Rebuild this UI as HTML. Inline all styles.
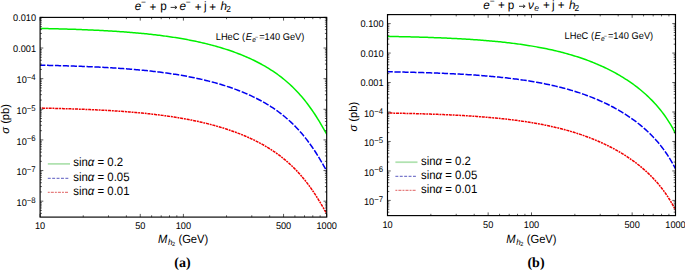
<!DOCTYPE html>
<html><head><meta charset="utf-8"><style>
html,body{margin:0;padding:0;background:#fff;width:685px;height:270px;overflow:hidden}
</style></head><body>
<svg width="685" height="270" viewBox="0 0 685 270" style="display:block;font-family:'Liberation Sans', sans-serif" fill="#000" text-rendering="geometricPrecision">
<rect width="685" height="270" fill="#fff"/>
<clipPath id="clipa"><rect x="40.1" y="17.4" width="286.6" height="199.7"/></clipPath>
<g clip-path="url(#clipa)" fill="none" stroke-width="1.5">
<path d="M39.1 28.41 L40.55 28.44 L42 28.47 L43.45 28.5 L44.9 28.53 L46.35 28.56 L47.8 28.59 L49.25 28.63 L50.7 28.66 L52.15 28.69 L53.6 28.73 L55.05 28.77 L56.5 28.8 L57.95 28.84 L59.4 28.88 L60.85 28.92 L62.3 28.96 L63.75 29 L65.2 29.05 L66.65 29.09 L68.11 29.13 L69.56 29.18 L71.01 29.23 L72.46 29.27 L73.91 29.32 L75.36 29.37 L76.81 29.42 L78.26 29.47 L79.71 29.53 L81.16 29.58 L82.61 29.64 L84.06 29.7 L85.51 29.75 L86.96 29.81 L88.41 29.88 L89.86 29.94 L91.31 30 L92.76 30.07 L94.21 30.13 L95.66 30.2 L97.11 30.27 L98.56 30.34 L100.01 30.42 L101.46 30.49 L102.91 30.57 L104.36 30.65 L105.81 30.73 L107.26 30.81 L108.71 30.89 L110.16 30.98 L111.61 31.07 L113.06 31.16 L114.51 31.25 L115.96 31.34 L117.41 31.44 L118.86 31.53 L120.31 31.63 L121.76 31.74 L123.21 31.84 L124.66 31.95 L126.12 32.06 L127.57 32.17 L129.02 32.28 L130.47 32.4 L131.92 32.52 L133.37 32.64 L134.82 32.77 L136.27 32.89 L137.72 33.02 L139.17 33.16 L140.62 33.29 L142.07 33.43 L143.52 33.57 L144.97 33.72 L146.42 33.87 L147.87 34.02 L149.32 34.17 L150.77 34.33 L152.22 34.49 L153.67 34.66 L155.12 34.83 L156.57 35 L158.02 35.18 L159.47 35.36 L160.92 35.54 L162.37 35.73 L163.82 35.92 L165.27 36.12 L166.72 36.32 L168.17 36.52 L169.62 36.73 L171.07 36.94 L172.52 37.16 L173.97 37.38 L175.42 37.61 L176.87 37.84 L178.32 38.08 L179.77 38.32 L181.22 38.57 L182.67 38.82 L184.13 39.08 L185.58 39.34 L187.03 39.61 L188.48 39.88 L189.93 40.16 L191.38 40.44 L192.83 40.74 L194.28 41.03 L195.73 41.34 L197.18 41.64 L198.63 41.96 L200.08 42.28 L201.53 42.61 L202.98 42.95 L204.43 43.29 L205.88 43.64 L207.33 44 L208.78 44.36 L210.23 44.73 L211.68 45.11 L213.13 45.5 L214.58 45.89 L216.03 46.3 L217.48 46.71 L218.93 47.13 L220.38 47.56 L221.83 47.99 L223.28 48.44 L224.73 48.9 L226.18 49.36 L227.63 49.83 L229.08 50.32 L230.53 50.81 L231.98 51.32 L233.43 51.83 L234.88 52.36 L236.33 52.89 L237.78 53.44 L239.23 54 L240.68 54.57 L242.14 55.15 L243.59 55.75 L245.04 56.36 L246.49 56.98 L247.94 57.62 L249.39 58.27 L250.84 58.93 L252.29 59.61 L253.74 60.3 L255.19 61.01 L256.64 61.74 L258.09 62.48 L259.54 63.24 L260.99 64.02 L262.44 64.82 L263.89 65.63 L265.34 66.47 L266.79 67.32 L268.24 68.2 L269.69 69.1 L271.14 70.02 L272.59 70.97 L274.04 71.94 L275.49 72.93 L276.94 73.96 L278.39 75.01 L279.84 76.08 L281.29 77.19 L282.74 78.33 L284.19 79.5 L285.64 80.71 L287.09 81.95 L288.54 83.23 L289.99 84.54 L291.44 85.89 L292.89 87.28 L294.34 88.72 L295.79 90.2 L297.24 91.72 L298.69 93.29 L300.15 94.91 L301.6 96.57 L303.05 98.29 L304.5 100.06 L305.95 101.89 L307.4 103.77 L308.85 105.7 L310.3 107.7 L311.75 109.75 L313.2 111.86 L314.65 114.04 L316.1 116.27 L317.55 118.56 L319 120.91 L320.45 123.32 L321.9 125.78 L323.35 128.29 L324.8 130.86 L326.25 133.47 L327.7 136.13" stroke="#00f000"/>
<path d="M39.1 65.17 L40.55 65.19 L42 65.22 L43.45 65.25 L44.9 65.29 L46.35 65.32 L47.8 65.35 L49.25 65.38 L50.7 65.42 L52.15 65.45 L53.6 65.49 L55.05 65.52 L56.5 65.56 L57.95 65.6 L59.4 65.64 L60.85 65.68 L62.3 65.72 L63.75 65.76 L65.2 65.8 L66.65 65.84 L68.11 65.89 L69.56 65.93 L71.01 65.98 L72.46 66.03 L73.91 66.08 L75.36 66.13 L76.81 66.18 L78.26 66.23 L79.71 66.28 L81.16 66.34 L82.61 66.39 L84.06 66.45 L85.51 66.51 L86.96 66.57 L88.41 66.63 L89.86 66.69 L91.31 66.76 L92.76 66.82 L94.21 66.89 L95.66 66.96 L97.11 67.03 L98.56 67.1 L100.01 67.17 L101.46 67.25 L102.91 67.32 L104.36 67.4 L105.81 67.48 L107.26 67.57 L108.71 67.65 L110.16 67.73 L111.61 67.82 L113.06 67.91 L114.51 68 L115.96 68.1 L117.41 68.19 L118.86 68.29 L120.31 68.39 L121.76 68.49 L123.21 68.6 L124.66 68.7 L126.12 68.81 L127.57 68.93 L129.02 69.04 L130.47 69.16 L131.92 69.28 L133.37 69.4 L134.82 69.52 L136.27 69.65 L137.72 69.78 L139.17 69.91 L140.62 70.05 L142.07 70.19 L143.52 70.33 L144.97 70.47 L146.42 70.62 L147.87 70.77 L149.32 70.93 L150.77 71.09 L152.22 71.25 L153.67 71.41 L155.12 71.58 L156.57 71.76 L158.02 71.93 L159.47 72.11 L160.92 72.3 L162.37 72.48 L163.82 72.68 L165.27 72.87 L166.72 73.07 L168.17 73.28 L169.62 73.48 L171.07 73.7 L172.52 73.92 L173.97 74.14 L175.42 74.36 L176.87 74.6 L178.32 74.83 L179.77 75.08 L181.22 75.32 L182.67 75.57 L184.13 75.83 L185.58 76.09 L187.03 76.36 L188.48 76.64 L189.93 76.91 L191.38 77.2 L192.83 77.49 L194.28 77.79 L195.73 78.09 L197.18 78.4 L198.63 78.72 L200.08 79.04 L201.53 79.37 L202.98 79.7 L204.43 80.05 L205.88 80.4 L207.33 80.75 L208.78 81.12 L210.23 81.49 L211.68 81.87 L213.13 82.26 L214.58 82.65 L216.03 83.05 L217.48 83.46 L218.93 83.88 L220.38 84.31 L221.83 84.75 L223.28 85.2 L224.73 85.65 L226.18 86.12 L227.63 86.59 L229.08 87.07 L230.53 87.57 L231.98 88.07 L233.43 88.59 L234.88 89.11 L236.33 89.65 L237.78 90.2 L239.23 90.76 L240.68 91.33 L242.14 91.91 L243.59 92.51 L245.04 93.11 L246.49 93.74 L247.94 94.37 L249.39 95.02 L250.84 95.69 L252.29 96.36 L253.74 97.06 L255.19 97.77 L256.64 98.49 L258.09 99.24 L259.54 100 L260.99 100.77 L262.44 101.57 L263.89 102.39 L265.34 103.22 L266.79 104.08 L268.24 104.96 L269.69 105.85 L271.14 106.78 L272.59 107.72 L274.04 108.69 L275.49 109.69 L276.94 110.71 L278.39 111.76 L279.84 112.84 L281.29 113.95 L282.74 115.09 L284.19 116.26 L285.64 117.47 L287.09 118.71 L288.54 119.98 L289.99 121.3 L291.44 122.65 L292.89 124.04 L294.34 125.47 L295.79 126.95 L297.24 128.48 L298.69 130.04 L300.15 131.66 L301.6 133.33 L303.05 135.05 L304.5 136.82 L305.95 138.64 L307.4 140.52 L308.85 142.46 L310.3 144.45 L311.75 146.51 L313.2 148.62 L314.65 150.79 L316.1 153.02 L317.55 155.31 L319 157.66 L320.45 160.07 L321.9 162.53 L323.35 165.05 L324.8 167.62 L326.25 170.23 L327.7 172.88" stroke="#0000f0" stroke-dasharray="6.3 1.6" stroke-dashoffset="0"/>
<path d="M39.1 108.05 L40.55 108.08 L42 108.11 L43.45 108.14 L44.9 108.17 L46.35 108.2 L47.8 108.23 L49.25 108.26 L50.7 108.3 L52.15 108.33 L53.6 108.37 L55.05 108.4 L56.5 108.44 L57.95 108.48 L59.4 108.52 L60.85 108.56 L62.3 108.6 L63.75 108.64 L65.2 108.68 L66.65 108.73 L68.11 108.77 L69.56 108.82 L71.01 108.86 L72.46 108.91 L73.91 108.96 L75.36 109.01 L76.81 109.06 L78.26 109.11 L79.71 109.17 L81.16 109.22 L82.61 109.28 L84.06 109.33 L85.51 109.39 L86.96 109.45 L88.41 109.51 L89.86 109.58 L91.31 109.64 L92.76 109.71 L94.21 109.77 L95.66 109.84 L97.11 109.91 L98.56 109.98 L100.01 110.06 L101.46 110.13 L102.91 110.21 L104.36 110.29 L105.81 110.37 L107.26 110.45 L108.71 110.53 L110.16 110.62 L111.61 110.7 L113.06 110.79 L114.51 110.89 L115.96 110.98 L117.41 111.07 L118.86 111.17 L120.31 111.27 L121.76 111.37 L123.21 111.48 L124.66 111.59 L126.12 111.7 L127.57 111.81 L129.02 111.92 L130.47 112.04 L131.92 112.16 L133.37 112.28 L134.82 112.4 L136.27 112.53 L137.72 112.66 L139.17 112.79 L140.62 112.93 L142.07 113.07 L143.52 113.21 L144.97 113.36 L146.42 113.51 L147.87 113.66 L149.32 113.81 L150.77 113.97 L152.22 114.13 L153.67 114.3 L155.12 114.47 L156.57 114.64 L158.02 114.81 L159.47 114.99 L160.92 115.18 L162.37 115.37 L163.82 115.56 L165.27 115.75 L166.72 115.95 L168.17 116.16 L169.62 116.37 L171.07 116.58 L172.52 116.8 L173.97 117.02 L175.42 117.25 L176.87 117.48 L178.32 117.72 L179.77 117.96 L181.22 118.2 L182.67 118.46 L184.13 118.71 L185.58 118.98 L187.03 119.24 L188.48 119.52 L189.93 119.8 L191.38 120.08 L192.83 120.37 L194.28 120.67 L195.73 120.97 L197.18 121.28 L198.63 121.6 L200.08 121.92 L201.53 122.25 L202.98 122.59 L204.43 122.93 L205.88 123.28 L207.33 123.64 L208.78 124 L210.23 124.37 L211.68 124.75 L213.13 125.14 L214.58 125.53 L216.03 125.94 L217.48 126.35 L218.93 126.77 L220.38 127.19 L221.83 127.63 L223.28 128.08 L224.73 128.53 L226.18 129 L227.63 129.47 L229.08 129.96 L230.53 130.45 L231.98 130.95 L233.43 131.47 L234.88 131.99 L236.33 132.53 L237.78 133.08 L239.23 133.64 L240.68 134.21 L242.14 134.79 L243.59 135.39 L245.04 136 L246.49 136.62 L247.94 137.25 L249.39 137.9 L250.84 138.57 L252.29 139.25 L253.74 139.94 L255.19 140.65 L256.64 141.38 L258.09 142.12 L259.54 142.88 L260.99 143.66 L262.44 144.45 L263.89 145.27 L265.34 146.1 L266.79 146.96 L268.24 147.84 L269.69 148.74 L271.14 149.66 L272.59 150.6 L274.04 151.58 L275.49 152.57 L276.94 153.59 L278.39 154.64 L279.84 155.72 L281.29 156.83 L282.74 157.97 L284.19 159.14 L285.64 160.35 L287.09 161.59 L288.54 162.86 L289.99 164.18 L291.44 165.53 L292.89 166.92 L294.34 168.36 L295.79 169.83 L297.24 171.36 L298.69 172.93 L300.15 174.54 L301.6 176.21 L303.05 177.93 L304.5 179.7 L305.95 181.53 L307.4 183.41 L308.85 185.34 L310.3 187.34 L311.75 189.39 L313.2 191.5 L314.65 193.67 L316.1 195.9 L317.55 198.2 L319 200.55 L320.45 202.95 L321.9 205.42 L323.35 207.93 L324.8 210.5 L326.25 213.11 L327.7 215.76" stroke="#f00000" stroke-width="1.5" stroke-dasharray="3.1 0.8 1.9 0.8" stroke-dashoffset="-2.9"/>
</g>
<rect x="40.1" y="17.4" width="286.6" height="199.7" fill="none" stroke="#000" stroke-width="1.15"/>
<path d="M40.1 217.1v-3.2M40.1 17.4v3.2M83.24 217.1v-1.8M83.24 17.4v1.8M108.47 217.1v-1.8M108.47 17.4v1.8M126.38 217.1v-1.8M126.38 17.4v1.8M140.26 217.1v-3.2M140.26 17.4v3.2M151.61 217.1v-1.8M151.61 17.4v1.8M161.2 217.1v-1.8M161.2 17.4v1.8M169.51 217.1v-1.8M169.51 17.4v1.8M176.84 217.1v-1.8M176.84 17.4v1.8M183.4 217.1v-3.2M183.4 17.4v3.2M226.54 217.1v-1.8M226.54 17.4v1.8M251.77 217.1v-1.8M251.77 17.4v1.8M269.68 217.1v-1.8M269.68 17.4v1.8M283.56 217.1v-3.2M283.56 17.4v3.2M294.91 217.1v-1.8M294.91 17.4v1.8M304.5 217.1v-1.8M304.5 17.4v1.8M312.81 217.1v-1.8M312.81 17.4v1.8M320.14 217.1v-1.8M320.14 17.4v1.8M326.7 217.1v-3.2M326.7 17.4v3.2M40.1 213.37h1.8M326.7 213.37h-1.8M40.1 210.4h1.8M326.7 210.4h-1.8M40.1 207.98h1.8M326.7 207.98h-1.8M40.1 205.92h1.8M326.7 205.92h-1.8M40.1 204.15h1.8M326.7 204.15h-1.8M40.1 202.58h1.8M326.7 202.58h-1.8M40.1 201.18h3.2M326.7 201.18h-3.2M40.1 191.96h1.8M326.7 191.96h-1.8M40.1 186.57h1.8M326.7 186.57h-1.8M40.1 182.74h1.8M326.7 182.74h-1.8M40.1 179.77h1.8M326.7 179.77h-1.8M40.1 177.35h1.8M326.7 177.35h-1.8M40.1 175.29h1.8M326.7 175.29h-1.8M40.1 173.52h1.8M326.7 173.52h-1.8M40.1 171.95h1.8M326.7 171.95h-1.8M40.1 170.55h3.2M326.7 170.55h-3.2M40.1 161.33h1.8M326.7 161.33h-1.8M40.1 155.94h1.8M326.7 155.94h-1.8M40.1 152.11h1.8M326.7 152.11h-1.8M40.1 149.14h1.8M326.7 149.14h-1.8M40.1 146.72h1.8M326.7 146.72h-1.8M40.1 144.66h1.8M326.7 144.66h-1.8M40.1 142.89h1.8M326.7 142.89h-1.8M40.1 141.32h1.8M326.7 141.32h-1.8M40.1 139.92h3.2M326.7 139.92h-3.2M40.1 130.7h1.8M326.7 130.7h-1.8M40.1 125.31h1.8M326.7 125.31h-1.8M40.1 121.48h1.8M326.7 121.48h-1.8M40.1 118.51h1.8M326.7 118.51h-1.8M40.1 116.09h1.8M326.7 116.09h-1.8M40.1 114.03h1.8M326.7 114.03h-1.8M40.1 112.26h1.8M326.7 112.26h-1.8M40.1 110.69h1.8M326.7 110.69h-1.8M40.1 109.29h3.2M326.7 109.29h-3.2M40.1 100.07h1.8M326.7 100.07h-1.8M40.1 94.68h1.8M326.7 94.68h-1.8M40.1 90.85h1.8M326.7 90.85h-1.8M40.1 87.88h1.8M326.7 87.88h-1.8M40.1 85.46h1.8M326.7 85.46h-1.8M40.1 83.4h1.8M326.7 83.4h-1.8M40.1 81.63h1.8M326.7 81.63h-1.8M40.1 80.06h1.8M326.7 80.06h-1.8M40.1 78.66h3.2M326.7 78.66h-3.2M40.1 69.44h1.8M326.7 69.44h-1.8M40.1 64.05h1.8M326.7 64.05h-1.8M40.1 60.22h1.8M326.7 60.22h-1.8M40.1 57.25h1.8M326.7 57.25h-1.8M40.1 54.83h1.8M326.7 54.83h-1.8M40.1 52.77h1.8M326.7 52.77h-1.8M40.1 51h1.8M326.7 51h-1.8M40.1 49.43h1.8M326.7 49.43h-1.8M40.1 48.03h3.2M326.7 48.03h-3.2M40.1 38.81h1.8M326.7 38.81h-1.8M40.1 33.42h1.8M326.7 33.42h-1.8M40.1 29.59h1.8M326.7 29.59h-1.8M40.1 26.62h1.8M326.7 26.62h-1.8M40.1 24.2h1.8M326.7 24.2h-1.8M40.1 22.14h1.8M326.7 22.14h-1.8M40.1 20.37h1.8M326.7 20.37h-1.8M40.1 18.8h1.8M326.7 18.8h-1.8M40.1 17.4h3.2M326.7 17.4h-3.2" stroke="#000" stroke-width="0.65" fill="none"/>
<text x="36.1" y="20.9" font-size="9.2" text-anchor="end" transform="matrix(1 0 0 1.06 0 -1.25)">0.010</text>
<text x="36.1" y="51.53" font-size="9.2" text-anchor="end" transform="matrix(1 0 0 1.06 0 -3.09)">0.001</text>
<text x="35.7" y="83.26" font-size="9.2" text-anchor="end" transform="matrix(1 0 0 1.06 0 -5)">10<tspan font-size="7.8" dy="-2.9">−4</tspan></text>
<text x="35.7" y="113.89" font-size="9.2" text-anchor="end" transform="matrix(1 0 0 1.06 0 -6.83)">10<tspan font-size="7.8" dy="-2.9">−5</tspan></text>
<text x="35.7" y="144.52" font-size="9.2" text-anchor="end" transform="matrix(1 0 0 1.06 0 -8.67)">10<tspan font-size="7.8" dy="-2.9">−6</tspan></text>
<text x="35.7" y="175.15" font-size="9.2" text-anchor="end" transform="matrix(1 0 0 1.06 0 -10.51)">10<tspan font-size="7.8" dy="-2.9">−7</tspan></text>
<text x="35.7" y="205.78" font-size="9.2" text-anchor="end" transform="matrix(1 0 0 1.06 0 -12.35)">10<tspan font-size="7.8" dy="-2.9">−8</tspan></text>
<text x="40.1" y="228.7" font-size="9.2" text-anchor="middle" transform="matrix(1 0 0 1.06 0 -13.72)">10</text>
<text x="140.26" y="228.7" font-size="9.2" text-anchor="middle" transform="matrix(1 0 0 1.06 0 -13.72)">50</text>
<text x="183.4" y="228.7" font-size="9.2" text-anchor="middle" transform="matrix(1 0 0 1.06 0 -13.72)">100</text>
<text x="283.56" y="228.7" font-size="9.2" text-anchor="middle" transform="matrix(1 0 0 1.06 0 -13.72)">500</text>
<text x="326.7" y="228.7" font-size="9.2" text-anchor="middle" transform="matrix(1 0 0 1.06 0 -13.72)">1000</text>
<text x="157.96" y="243" font-size="11.2" font-style="italic" transform="matrix(1 0 0 1.06 0 -14.58)">M</text>
<text x="167.97" y="244.8" font-size="8.0" font-style="italic" transform="matrix(1 0 0 1.06 0 -14.69)">h</text>
<text x="172.02" y="246.5" font-size="5.6" transform="matrix(1 0 0 1.06 0 -14.79)">2</text>
<text x="178.41" y="243" font-size="11.2" transform="matrix(1 0 0 1.06 0 -14.58)">(GeV)</text>
<text transform="translate(8.8 118.85) rotate(-90)" font-size="11.2" text-anchor="middle"><tspan font-style="italic">σ</tspan> (pb)</text>
<text x="215.74" y="39.7" font-size="9.3" transform="matrix(1 0 0 1.06 0 -2.38)">LHeC</text>
<text x="242.12" y="39.7" font-size="9.3" transform="matrix(1 0 0 1.06 0 -2.38)">(</text>
<text x="245.71" y="39.7" font-size="9.3" font-style="italic" transform="matrix(1 0 0 1.06 0 -2.38)">E</text>
<text x="252.18" y="41.6" font-size="6.6" font-style="italic" transform="matrix(1 0 0 1.06 0 -2.5)">e</text>
<text x="255.03" y="38.7" font-size="5.4" transform="matrix(1 0 0 1.06 0 -2.32)">−</text>
<text x="259.15" y="39.7" font-size="9.3" transform="matrix(1 0 0 1.06 0 -2.38)">=140</text>
<text x="282.73" y="39.7" font-size="9.3" transform="matrix(1 0 0 1.06 0 -2.38)">GeV)</text>
<path d="M47.8 163.9H70" stroke="#b0e2b0" stroke-width="1.75"/>
<text x="73.3" y="166.5" font-size="11.4" transform="matrix(1 0 0 1.06 0 -9.99)">sin<tspan font-style="italic">α</tspan> = 0.2</text>
<path d="M47.8 178.3H69.2" stroke="#7a7acc" stroke-width="1.35" stroke-dasharray="2.9 1.5"/>
<text x="73.3" y="180.9" font-size="11.4" transform="matrix(1 0 0 1.06 0 -10.85)">sin<tspan font-style="italic">α</tspan> = 0.05</text>
<path d="M47.8 192.4H68.5" stroke="#e67f7f" stroke-width="1.35" stroke-dasharray="1.9 1.1 3 1.1"/>
<text x="73.3" y="195" font-size="11.4" transform="matrix(1 0 0 1.06 0 -11.7)">sin<tspan font-style="italic">α</tspan> = 0.01</text>
<clipPath id="clipb"><rect x="387.5" y="14.6" width="288" height="201"/></clipPath>
<g clip-path="url(#clipb)" fill="none" stroke-width="1.5">
<path d="M386.5 36.38 L387.96 36.4 L389.41 36.43 L390.87 36.46 L392.33 36.48 L393.79 36.51 L395.24 36.54 L396.7 36.57 L398.16 36.6 L399.62 36.63 L401.07 36.66 L402.53 36.7 L403.99 36.73 L405.44 36.76 L406.9 36.8 L408.36 36.83 L409.82 36.87 L411.27 36.9 L412.73 36.94 L414.19 36.98 L415.65 37.02 L417.1 37.06 L418.56 37.1 L420.02 37.15 L421.47 37.19 L422.93 37.23 L424.39 37.28 L425.85 37.33 L427.3 37.37 L428.76 37.42 L430.22 37.47 L431.68 37.52 L433.13 37.58 L434.59 37.63 L436.05 37.68 L437.51 37.74 L438.96 37.8 L440.42 37.86 L441.88 37.92 L443.33 37.98 L444.79 38.04 L446.25 38.1 L447.71 38.17 L449.16 38.24 L450.62 38.31 L452.08 38.38 L453.54 38.45 L454.99 38.52 L456.45 38.6 L457.91 38.67 L459.36 38.75 L460.82 38.83 L462.28 38.92 L463.74 39 L465.19 39.09 L466.65 39.18 L468.11 39.27 L469.57 39.36 L471.02 39.45 L472.48 39.55 L473.94 39.65 L475.39 39.75 L476.85 39.85 L478.31 39.96 L479.77 40.07 L481.22 40.18 L482.68 40.29 L484.14 40.41 L485.6 40.53 L487.05 40.65 L488.51 40.77 L489.97 40.9 L491.42 41.03 L492.88 41.16 L494.34 41.3 L495.8 41.44 L497.25 41.58 L498.71 41.72 L500.17 41.87 L501.63 42.02 L503.08 42.18 L504.54 42.34 L506 42.5 L507.45 42.66 L508.91 42.83 L510.37 43.01 L511.83 43.18 L513.28 43.37 L514.74 43.55 L516.2 43.74 L517.66 43.93 L519.11 44.13 L520.57 44.33 L522.03 44.54 L523.48 44.75 L524.94 44.97 L526.4 45.19 L527.86 45.41 L529.31 45.65 L530.77 45.88 L532.23 46.12 L533.69 46.37 L535.14 46.62 L536.6 46.88 L538.06 47.14 L539.52 47.41 L540.97 47.68 L542.43 47.96 L543.89 48.25 L545.34 48.54 L546.8 48.84 L548.26 49.15 L549.72 49.46 L551.17 49.78 L552.63 50.1 L554.09 50.44 L555.55 50.77 L557 51.12 L558.46 51.48 L559.92 51.84 L561.37 52.21 L562.83 52.59 L564.29 52.97 L565.75 53.36 L567.2 53.77 L568.66 54.18 L570.12 54.6 L571.58 55.02 L573.03 55.46 L574.49 55.91 L575.95 56.36 L577.4 56.83 L578.86 57.3 L580.32 57.78 L581.78 58.28 L583.23 58.78 L584.69 59.3 L586.15 59.82 L587.61 60.36 L589.06 60.91 L590.52 61.47 L591.98 62.04 L593.43 62.62 L594.89 63.22 L596.35 63.82 L597.81 64.44 L599.26 65.07 L600.72 65.72 L602.18 66.38 L603.64 67.05 L605.09 67.74 L606.55 68.44 L608.01 69.15 L609.46 69.88 L610.92 70.63 L612.38 71.39 L613.84 72.16 L615.29 72.96 L616.75 73.77 L618.21 74.59 L619.67 75.44 L621.12 76.3 L622.58 77.19 L624.04 78.09 L625.49 79.01 L626.95 79.96 L628.41 80.92 L629.87 81.91 L631.32 82.92 L632.78 83.95 L634.24 85.01 L635.7 86.1 L637.15 87.21 L638.61 88.35 L640.07 89.52 L641.53 90.72 L642.98 91.96 L644.44 93.22 L645.9 94.53 L647.35 95.87 L648.81 97.24 L650.27 98.67 L651.73 100.13 L653.18 101.64 L654.64 103.2 L656.1 104.82 L657.56 106.49 L659.01 108.22 L660.47 110.01 L661.93 111.87 L663.38 113.8 L664.84 115.81 L666.3 117.9 L667.76 120.08 L669.21 122.36 L670.67 124.73 L672.13 127.22 L673.59 129.83 L675.04 132.57 L676.5 135.44" stroke="#00f000"/>
<path d="M386.5 71.74 L387.96 71.77 L389.41 71.79 L390.87 71.82 L392.33 71.85 L393.79 71.88 L395.24 71.91 L396.7 71.93 L398.16 71.96 L399.62 72 L401.07 72.03 L402.53 72.06 L403.99 72.09 L405.44 72.13 L406.9 72.16 L408.36 72.2 L409.82 72.23 L411.27 72.27 L412.73 72.31 L414.19 72.35 L415.65 72.39 L417.1 72.43 L418.56 72.47 L420.02 72.51 L421.47 72.55 L422.93 72.6 L424.39 72.64 L425.85 72.69 L427.3 72.74 L428.76 72.79 L430.22 72.84 L431.68 72.89 L433.13 72.94 L434.59 72.99 L436.05 73.05 L437.51 73.1 L438.96 73.16 L440.42 73.22 L441.88 73.28 L443.33 73.34 L444.79 73.4 L446.25 73.47 L447.71 73.53 L449.16 73.6 L450.62 73.67 L452.08 73.74 L453.54 73.81 L454.99 73.89 L456.45 73.96 L457.91 74.04 L459.36 74.12 L460.82 74.2 L462.28 74.28 L463.74 74.36 L465.19 74.45 L466.65 74.54 L468.11 74.63 L469.57 74.72 L471.02 74.82 L472.48 74.91 L473.94 75.01 L475.39 75.11 L476.85 75.22 L478.31 75.32 L479.77 75.43 L481.22 75.54 L482.68 75.66 L484.14 75.77 L485.6 75.89 L487.05 76.01 L488.51 76.14 L489.97 76.26 L491.42 76.39 L492.88 76.52 L494.34 76.66 L495.8 76.8 L497.25 76.94 L498.71 77.09 L500.17 77.23 L501.63 77.39 L503.08 77.54 L504.54 77.7 L506 77.86 L507.45 78.03 L508.91 78.2 L510.37 78.37 L511.83 78.55 L513.28 78.73 L514.74 78.91 L516.2 79.1 L517.66 79.3 L519.11 79.5 L520.57 79.7 L522.03 79.9 L523.48 80.12 L524.94 80.33 L526.4 80.55 L527.86 80.78 L529.31 81.01 L530.77 81.24 L532.23 81.49 L533.69 81.73 L535.14 81.98 L536.6 82.24 L538.06 82.5 L539.52 82.77 L540.97 83.05 L542.43 83.33 L543.89 83.61 L545.34 83.91 L546.8 84.2 L548.26 84.51 L549.72 84.82 L551.17 85.14 L552.63 85.47 L554.09 85.8 L555.55 86.14 L557 86.49 L558.46 86.84 L559.92 87.2 L561.37 87.57 L562.83 87.95 L564.29 88.33 L565.75 88.73 L567.2 89.13 L568.66 89.54 L570.12 89.96 L571.58 90.39 L573.03 90.82 L574.49 91.27 L575.95 91.73 L577.4 92.19 L578.86 92.66 L580.32 93.15 L581.78 93.64 L583.23 94.15 L584.69 94.66 L586.15 95.19 L587.61 95.73 L589.06 96.27 L590.52 96.83 L591.98 97.4 L593.43 97.99 L594.89 98.58 L596.35 99.19 L597.81 99.81 L599.26 100.44 L600.72 101.08 L602.18 101.74 L603.64 102.41 L605.09 103.1 L606.55 103.8 L608.01 104.51 L609.46 105.24 L610.92 105.99 L612.38 106.75 L613.84 107.53 L615.29 108.32 L616.75 109.13 L618.21 109.96 L619.67 110.8 L621.12 111.67 L622.58 112.55 L624.04 113.45 L625.49 114.38 L626.95 115.32 L628.41 116.28 L629.87 117.27 L631.32 118.28 L632.78 119.32 L634.24 120.38 L635.7 121.46 L637.15 122.57 L638.61 123.72 L640.07 124.89 L641.53 126.09 L642.98 127.32 L644.44 128.59 L645.9 129.89 L647.35 131.23 L648.81 132.61 L650.27 134.03 L651.73 135.49 L653.18 137.01 L654.64 138.57 L656.1 140.18 L657.56 141.85 L659.01 143.58 L660.47 145.37 L661.93 147.23 L663.38 149.16 L664.84 151.17 L666.3 153.26 L667.76 155.44 L669.21 157.72 L670.67 160.1 L672.13 162.59 L673.59 165.2 L675.04 167.93 L676.5 170.81" stroke="#0000f0" stroke-dasharray="6.3 1.6" stroke-dashoffset="0"/>
<path d="M386.5 113 L387.96 113.03 L389.41 113.05 L390.87 113.08 L392.33 113.11 L393.79 113.13 L395.24 113.16 L396.7 113.19 L398.16 113.22 L399.62 113.25 L401.07 113.28 L402.53 113.32 L403.99 113.35 L405.44 113.38 L406.9 113.42 L408.36 113.45 L409.82 113.49 L411.27 113.53 L412.73 113.56 L414.19 113.6 L415.65 113.64 L417.1 113.68 L418.56 113.73 L420.02 113.77 L421.47 113.81 L422.93 113.86 L424.39 113.9 L425.85 113.95 L427.3 114 L428.76 114.04 L430.22 114.09 L431.68 114.15 L433.13 114.2 L434.59 114.25 L436.05 114.31 L437.51 114.36 L438.96 114.42 L440.42 114.48 L441.88 114.54 L443.33 114.6 L444.79 114.66 L446.25 114.73 L447.71 114.79 L449.16 114.86 L450.62 114.93 L452.08 115 L453.54 115.07 L454.99 115.14 L456.45 115.22 L457.91 115.3 L459.36 115.37 L460.82 115.46 L462.28 115.54 L463.74 115.62 L465.19 115.71 L466.65 115.8 L468.11 115.89 L469.57 115.98 L471.02 116.07 L472.48 116.17 L473.94 116.27 L475.39 116.37 L476.85 116.48 L478.31 116.58 L479.77 116.69 L481.22 116.8 L482.68 116.91 L484.14 117.03 L485.6 117.15 L487.05 117.27 L488.51 117.39 L489.97 117.52 L491.42 117.65 L492.88 117.78 L494.34 117.92 L495.8 118.06 L497.25 118.2 L498.71 118.34 L500.17 118.49 L501.63 118.64 L503.08 118.8 L504.54 118.96 L506 119.12 L507.45 119.29 L508.91 119.46 L510.37 119.63 L511.83 119.81 L513.28 119.99 L514.74 120.17 L516.2 120.36 L517.66 120.56 L519.11 120.75 L520.57 120.96 L522.03 121.16 L523.48 121.37 L524.94 121.59 L526.4 121.81 L527.86 122.04 L529.31 122.27 L530.77 122.5 L532.23 122.74 L533.69 122.99 L535.14 123.24 L536.6 123.5 L538.06 123.76 L539.52 124.03 L540.97 124.3 L542.43 124.58 L543.89 124.87 L545.34 125.16 L546.8 125.46 L548.26 125.77 L549.72 126.08 L551.17 126.4 L552.63 126.72 L554.09 127.06 L555.55 127.4 L557 127.74 L558.46 128.1 L559.92 128.46 L561.37 128.83 L562.83 129.21 L564.29 129.59 L565.75 129.99 L567.2 130.39 L568.66 130.8 L570.12 131.22 L571.58 131.65 L573.03 132.08 L574.49 132.53 L575.95 132.98 L577.4 133.45 L578.86 133.92 L580.32 134.41 L581.78 134.9 L583.23 135.41 L584.69 135.92 L586.15 136.45 L587.61 136.98 L589.06 137.53 L590.52 138.09 L591.98 138.66 L593.43 139.24 L594.89 139.84 L596.35 140.44 L597.81 141.06 L599.26 141.7 L600.72 142.34 L602.18 143 L603.64 143.67 L605.09 144.36 L606.55 145.06 L608.01 145.77 L609.46 146.5 L610.92 147.25 L612.38 148.01 L613.84 148.78 L615.29 149.58 L616.75 150.39 L618.21 151.22 L619.67 152.06 L621.12 152.93 L622.58 153.81 L624.04 154.71 L625.49 155.63 L626.95 156.58 L628.41 157.54 L629.87 158.53 L631.32 159.54 L632.78 160.58 L634.24 161.63 L635.7 162.72 L637.15 163.83 L638.61 164.97 L640.07 166.14 L641.53 167.34 L642.98 168.58 L644.44 169.84 L645.9 171.15 L647.35 172.49 L648.81 173.87 L650.27 175.29 L651.73 176.75 L653.18 178.26 L654.64 179.83 L656.1 181.44 L657.56 183.11 L659.01 184.84 L660.47 186.63 L661.93 188.49 L663.38 190.42 L664.84 192.43 L666.3 194.52 L667.76 196.7 L669.21 198.98 L670.67 201.36 L672.13 203.85 L673.59 206.45 L675.04 209.19 L676.5 212.06" stroke="#f00000" stroke-width="1.5" stroke-dasharray="3.1 0.8 1.9 0.8" stroke-dashoffset="-2.9"/>
</g>
<rect x="387.5" y="14.6" width="288" height="201" fill="none" stroke="#000" stroke-width="1.15"/>
<path d="M387.5 215.6v-3.2M387.5 14.6v3.2M430.85 215.6v-1.8M430.85 14.6v1.8M456.21 215.6v-1.8M456.21 14.6v1.8M474.2 215.6v-1.8M474.2 14.6v1.8M488.15 215.6v-3.2M488.15 14.6v3.2M499.55 215.6v-1.8M499.55 14.6v1.8M509.19 215.6v-1.8M509.19 14.6v1.8M517.54 215.6v-1.8M517.54 14.6v1.8M524.91 215.6v-1.8M524.91 14.6v1.8M531.5 215.6v-3.2M531.5 14.6v3.2M574.85 215.6v-1.8M574.85 14.6v1.8M600.21 215.6v-1.8M600.21 14.6v1.8M618.2 215.6v-1.8M618.2 14.6v1.8M632.15 215.6v-3.2M632.15 14.6v3.2M643.55 215.6v-1.8M643.55 14.6v1.8M653.19 215.6v-1.8M653.19 14.6v1.8M661.54 215.6v-1.8M661.54 14.6v1.8M668.91 215.6v-1.8M668.91 14.6v1.8M675.5 215.6v-3.2M675.5 14.6v3.2M387.5 212.15h1.8M675.5 212.15h-1.8M387.5 209.29h1.8M675.5 209.29h-1.8M387.5 206.96h1.8M675.5 206.96h-1.8M387.5 204.98h1.8M675.5 204.98h-1.8M387.5 203.28h1.8M675.5 203.28h-1.8M387.5 201.77h1.8M675.5 201.77h-1.8M387.5 200.42h3.2M675.5 200.42h-3.2M387.5 191.55h1.8M675.5 191.55h-1.8M387.5 186.36h1.8M675.5 186.36h-1.8M387.5 182.68h1.8M675.5 182.68h-1.8M387.5 179.82h1.8M675.5 179.82h-1.8M387.5 177.49h1.8M675.5 177.49h-1.8M387.5 175.51h1.8M675.5 175.51h-1.8M387.5 173.81h1.8M675.5 173.81h-1.8M387.5 172.3h1.8M675.5 172.3h-1.8M387.5 170.95h3.2M675.5 170.95h-3.2M387.5 162.08h1.8M675.5 162.08h-1.8M387.5 156.89h1.8M675.5 156.89h-1.8M387.5 153.21h1.8M675.5 153.21h-1.8M387.5 150.35h1.8M675.5 150.35h-1.8M387.5 148.02h1.8M675.5 148.02h-1.8M387.5 146.04h1.8M675.5 146.04h-1.8M387.5 144.34h1.8M675.5 144.34h-1.8M387.5 142.83h1.8M675.5 142.83h-1.8M387.5 141.48h3.2M675.5 141.48h-3.2M387.5 132.61h1.8M675.5 132.61h-1.8M387.5 127.42h1.8M675.5 127.42h-1.8M387.5 123.74h1.8M675.5 123.74h-1.8M387.5 120.88h1.8M675.5 120.88h-1.8M387.5 118.55h1.8M675.5 118.55h-1.8M387.5 116.57h1.8M675.5 116.57h-1.8M387.5 114.87h1.8M675.5 114.87h-1.8M387.5 113.36h1.8M675.5 113.36h-1.8M387.5 112.01h3.2M675.5 112.01h-3.2M387.5 103.14h1.8M675.5 103.14h-1.8M387.5 97.95h1.8M675.5 97.95h-1.8M387.5 94.27h1.8M675.5 94.27h-1.8M387.5 91.41h1.8M675.5 91.41h-1.8M387.5 89.08h1.8M675.5 89.08h-1.8M387.5 87.1h1.8M675.5 87.1h-1.8M387.5 85.4h1.8M675.5 85.4h-1.8M387.5 83.89h1.8M675.5 83.89h-1.8M387.5 82.54h3.2M675.5 82.54h-3.2M387.5 73.67h1.8M675.5 73.67h-1.8M387.5 68.48h1.8M675.5 68.48h-1.8M387.5 64.8h1.8M675.5 64.8h-1.8M387.5 61.94h1.8M675.5 61.94h-1.8M387.5 59.61h1.8M675.5 59.61h-1.8M387.5 57.63h1.8M675.5 57.63h-1.8M387.5 55.93h1.8M675.5 55.93h-1.8M387.5 54.42h1.8M675.5 54.42h-1.8M387.5 53.07h3.2M675.5 53.07h-3.2M387.5 44.2h1.8M675.5 44.2h-1.8M387.5 39.01h1.8M675.5 39.01h-1.8M387.5 35.33h1.8M675.5 35.33h-1.8M387.5 32.47h1.8M675.5 32.47h-1.8M387.5 30.14h1.8M675.5 30.14h-1.8M387.5 28.16h1.8M675.5 28.16h-1.8M387.5 26.46h1.8M675.5 26.46h-1.8M387.5 24.95h1.8M675.5 24.95h-1.8M387.5 23.6h3.2M675.5 23.6h-3.2M387.5 14.73h1.8M675.5 14.73h-1.8" stroke="#000" stroke-width="0.65" fill="none"/>
<text x="383.5" y="27.1" font-size="9.2" text-anchor="end" transform="matrix(1 0 0 1.06 0 -1.63)">0.100</text>
<text x="383.5" y="56.57" font-size="9.2" text-anchor="end" transform="matrix(1 0 0 1.06 0 -3.39)">0.010</text>
<text x="383.5" y="86.04" font-size="9.2" text-anchor="end" transform="matrix(1 0 0 1.06 0 -5.16)">0.001</text>
<text x="383.1" y="116.61" font-size="9.2" text-anchor="end" transform="matrix(1 0 0 1.06 0 -7)">10<tspan font-size="7.8" dy="-2.9">−4</tspan></text>
<text x="383.1" y="146.08" font-size="9.2" text-anchor="end" transform="matrix(1 0 0 1.06 0 -8.76)">10<tspan font-size="7.8" dy="-2.9">−5</tspan></text>
<text x="383.1" y="175.55" font-size="9.2" text-anchor="end" transform="matrix(1 0 0 1.06 0 -10.53)">10<tspan font-size="7.8" dy="-2.9">−6</tspan></text>
<text x="383.1" y="205.02" font-size="9.2" text-anchor="end" transform="matrix(1 0 0 1.06 0 -12.3)">10<tspan font-size="7.8" dy="-2.9">−7</tspan></text>
<text x="387.5" y="228.2" font-size="9.2" text-anchor="middle" transform="matrix(1 0 0 1.06 0 -13.69)">10</text>
<text x="488.15" y="228.2" font-size="9.2" text-anchor="middle" transform="matrix(1 0 0 1.06 0 -13.69)">50</text>
<text x="531.5" y="228.2" font-size="9.2" text-anchor="middle" transform="matrix(1 0 0 1.06 0 -13.69)">100</text>
<text x="632.15" y="228.2" font-size="9.2" text-anchor="middle" transform="matrix(1 0 0 1.06 0 -13.69)">500</text>
<text x="675.5" y="228.2" font-size="9.2" text-anchor="middle" transform="matrix(1 0 0 1.06 0 -13.69)">1000</text>
<text x="506.26" y="243" font-size="11.2" font-style="italic" transform="matrix(1 0 0 1.06 0 -14.58)">M</text>
<text x="516.27" y="244.8" font-size="8.0" font-style="italic" transform="matrix(1 0 0 1.06 0 -14.69)">h</text>
<text x="520.32" y="246.5" font-size="5.6" transform="matrix(1 0 0 1.06 0 -14.79)">2</text>
<text x="526.71" y="243" font-size="11.2" transform="matrix(1 0 0 1.06 0 -14.58)">(GeV)</text>
<text transform="translate(357.1 116.7) rotate(-90)" font-size="11.2" text-anchor="middle"><tspan font-style="italic">σ</tspan> (pb)</text>
<text x="564.54" y="38.9" font-size="9.3" transform="matrix(1 0 0 1.06 0 -2.33)">LHeC</text>
<text x="590.92" y="38.9" font-size="9.3" transform="matrix(1 0 0 1.06 0 -2.33)">(</text>
<text x="594.51" y="38.9" font-size="9.3" font-style="italic" transform="matrix(1 0 0 1.06 0 -2.33)">E</text>
<text x="600.98" y="40.8" font-size="6.6" font-style="italic" transform="matrix(1 0 0 1.06 0 -2.45)">e</text>
<text x="603.83" y="37.9" font-size="5.4" transform="matrix(1 0 0 1.06 0 -2.27)">−</text>
<text x="607.95" y="38.9" font-size="9.3" transform="matrix(1 0 0 1.06 0 -2.33)">=140</text>
<text x="631.53" y="38.9" font-size="9.3" transform="matrix(1 0 0 1.06 0 -2.33)">GeV)</text>
<path d="M395.4 162.2H417.5" stroke="#b0e2b0" stroke-width="1.75"/>
<text x="421" y="164.8" font-size="11.4" transform="matrix(1 0 0 1.06 0 -9.89)">sin<tspan font-style="italic">α</tspan> = 0.2</text>
<path d="M395.4 176.4H416.7" stroke="#7a7acc" stroke-width="1.35" stroke-dasharray="2.9 1.5"/>
<text x="421" y="179" font-size="11.4" transform="matrix(1 0 0 1.06 0 -10.74)">sin<tspan font-style="italic">α</tspan> = 0.05</text>
<path d="M395.4 190.4H416" stroke="#e67f7f" stroke-width="1.35" stroke-dasharray="1.9 1.1 3 1.1"/>
<text x="421" y="193" font-size="11.4" transform="matrix(1 0 0 1.06 0 -11.58)">sin<tspan font-style="italic">α</tspan> = 0.01</text>
<text x="182.4" y="267.1" font-size="14" font-weight="bold" text-anchor="middle" font-family="'Liberation Serif', serif">(a)</text>
<text x="536" y="267.1" font-size="14" font-weight="bold" text-anchor="middle" font-family="'Liberation Serif', serif">(b)</text>
<text x="134.81" y="9.9" font-size="11.7" font-style="italic" transform="matrix(1 0 0 1.04 0 -0.4)">e</text>
<text x="140.99" y="5" font-size="8.4" transform="matrix(1 0 0 1.04 0 -0.2)">−</text>
<text x="149.43" y="10.6" font-size="11.7" transform="matrix(1 0 0 1.04 0 -0.42)">+</text>
<text x="160.15" y="9.9" font-size="11.7" transform="matrix(1 0 0 1.04 0 -0.4)">p</text>
<path d="M170.6 7.4H176.4M174.8 5.9L177 7.4L174.8 8.9" fill="none" stroke="#000" stroke-width="0.8"/>
<text x="179.41" y="9.9" font-size="11.7" font-style="italic" transform="matrix(1 0 0 1.04 0 -0.4)">e</text>
<text x="185.79" y="5" font-size="8.4" transform="matrix(1 0 0 1.04 0 -0.2)">−</text>
<text x="194.73" y="10.6" font-size="11.7" transform="matrix(1 0 0 1.04 0 -0.42)">+</text>
<text x="203.89" y="9.9" font-size="11.7" transform="matrix(1 0 0 1.04 0 -0.4)">j</text>
<text x="209.13" y="10.6" font-size="11.7" transform="matrix(1 0 0 1.04 0 -0.42)">+</text>
<text x="220.41" y="9.9" font-size="11.7" font-style="italic" transform="matrix(1 0 0 1.04 0 -0.4)">h</text>
<text x="226.18" y="11.7" font-size="8.4" transform="matrix(1 0 0 1.04 0 -0.47)">2</text>
<text x="483.21" y="8.8" font-size="11.7" font-style="italic" transform="matrix(1 0 0 1.04 0 -0.35)">e</text>
<text x="489.79" y="4.3" font-size="8.4" transform="matrix(1 0 0 1.04 0 -0.17)">−</text>
<text x="497.93" y="9.5" font-size="11.7" transform="matrix(1 0 0 1.04 0 -0.38)">+</text>
<text x="507.75" y="8.8" font-size="11.7" transform="matrix(1 0 0 1.04 0 -0.35)">p</text>
<path d="M519 6.3H524.6M523 4.8L525.2 6.3L523 7.8" fill="none" stroke="#000" stroke-width="0.8"/>
<text x="528.03" y="8.8" font-size="11.7" font-style="italic" transform="matrix(1 0 0 1.04 0 -0.35)">ν</text>
<text x="534.31" y="10.7" font-size="8.6" font-style="italic" transform="matrix(1 0 0 1.04 0 -0.43)">e</text>
<text x="542.93" y="9.5" font-size="11.7" transform="matrix(1 0 0 1.04 0 -0.38)">+</text>
<text x="552.09" y="8.8" font-size="11.7" transform="matrix(1 0 0 1.04 0 -0.35)">j</text>
<text x="557.73" y="9.5" font-size="11.7" transform="matrix(1 0 0 1.04 0 -0.38)">+</text>
<text x="569.01" y="8.8" font-size="11.7" font-style="italic" transform="matrix(1 0 0 1.04 0 -0.35)">h</text>
<text x="574.38" y="10.6" font-size="8.4" transform="matrix(1 0 0 1.04 0 -0.42)">2</text>
</svg>
</body></html>
